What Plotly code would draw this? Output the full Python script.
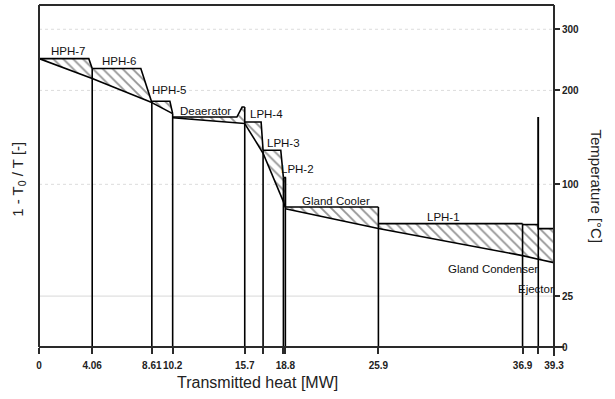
import plotly.graph_objects as go

T0 = 273.15

heaters = ["HPH-7", "HPH-6", "HPH-5", "Deaerator", "LPH-4", "LPH-3", "LPH-2",
           "Gland Cooler", "LPH-1", "Gland Condenser", "Ejector"]

# hot-side (heating steam / drain) profiles: heat [MW] and temperature [°C]
hot_q = [[0, 3.80, 4.06], [4.06, 7.77, 8.61], [8.61, 9.99, 10.2],
         [10.2, 15.1, 15.5, 15.7], [15.7, 16.95, 17.1], [17.1, 18.45, 18.65],
         [18.65, 18.8, 18.8], [18.8, 25.9], [25.9, 36.9], [36.9, 38.1],
         [38.1, 38.1, 39.3]]
hot_T = [[247.2, 247.2, 231.5], [231.5, 231.5, 184.1], [185.8, 185.8, 170.6],
         [166.6, 166.6, 178.6, 178.6], [160.9, 160.9, 131.0], [131.0, 131.0, 105.7],
         [105.7, 105.7, 82.0], [81.9, 81.9], [69.7, 69.7], [69.0, 69.0],
         [166.6, 66.2, 66.2]]

# cold side (feedwater / condensate) inlet-outlet temperatures [°C] per heater
cold_T_start = [247.2, 216.5, 184.1, 165.7, 159.1, 128.0, 86.0, 80.5, 66.2, 48.4, 46.1]
cold_T_end = [216.5, 184.1, 170.6, 159.1, 128.0, 86.0, 81.5, 66.2, 48.4, 46.1, 44.1]

x_ticks = [0, 4.06, 8.61, 10.2, 15.7, 18.8, 25.9, 36.9, 39.3]
x_ticktext = ["0", "4.06", "8.61", "10.2", "15.7", "18.8", "25.9", "36.9", "39.3"]
x_minor_ticks = [17.1, 18.65, 38.1]

temp_ticks = [0, 25, 100, 200, 300]

# label anchor points (heat MW, Carnot factor)
label_x = [2.27, 6.17, 9.95, 12.74, 17.38, 18.63, 19.70, 22.68, 30.83, 34.64, 37.96]
label_c = [0.4871, 0.4707, 0.4241, 0.3888, 0.3845, 0.3367, 0.2939, 0.2409, 0.2142, 0.1280, 0.0962]


def carnot(t):
    return 1 - T0 / (t + 273.15)


FONT = "Arial, Liberation Sans"
fig = go.Figure()

# gridlines
for t in temp_ticks[1:]:
    fig.add_shape(type="line", xref="paper", x0=0, x1=1, yref="y", y0=carnot(t), y1=carnot(t),
                  line=dict(color="#d8d8d8" if t == 25 else "#dcdcdc", width=1,
                            dash="solid" if t == 25 else "dot"),
                  layer="below")

# hatched areas
for i in range(len(heaters)):
    q0, q1 = hot_q[i][0], hot_q[i][-1]
    px = list(hot_q[i]) + [q1, q0, q0]
    py = [carnot(t) for t in hot_T[i]] + [carnot(cold_T_end[i]), carnot(cold_T_start[i]), carnot(hot_T[i][0])]
    fig.add_trace(go.Scatter(x=px, y=py, mode="lines", fill="toself", fillcolor="white",
                             fillpattern=dict(shape="\\", size=7, solidity=0.26, fgcolor="#2a2a2a",
                                              bgcolor="white"),
                             line=dict(width=0), hoverinfo="skip", showlegend=False))

# hot and cold lines
for i in range(len(heaters)):
    fig.add_trace(go.Scatter(x=hot_q[i], y=[carnot(t) for t in hot_T[i]], mode="lines",
                             line=dict(color="black", width=1.6), showlegend=False))
    fig.add_trace(go.Scatter(x=[hot_q[i][0], hot_q[i][-1]],
                             y=[carnot(cold_T_start[i]), carnot(cold_T_end[i])], mode="lines",
                             line=dict(color="black", width=1.6), showlegend=False))

# vertical boundary lines
bounds = sorted(set(q for qs in hot_q for q in qs[:1] + qs[-1:]))
for b in bounds:
    if b <= 0 or b >= 39.3:
        continue
    top = max(t for qs, ts in zip(hot_q, hot_T) for q, t in zip(qs, ts) if abs(q - b) < 1e-9)
    fig.add_trace(go.Scatter(x=[b, b], y=[0, carnot(top)], mode="lines",
                             line=dict(color="black", width=1.6), showlegend=False))

# heater labels
for name, lx, lc in zip(heaters, label_x, label_c):
    fig.add_annotation(x=lx, y=lc, text=name, showarrow=False, xanchor="center", yanchor="middle",
                       font=dict(family=FONT, size=11.5, color="#111"))

# frame
fc = "#2a2a2a"
fig.add_shape(type="line", xref="paper", yref="paper", x0=0, x1=0, y0=0, y1=1, line=dict(color=fc, width=2))
fig.add_shape(type="line", xref="paper", yref="paper", x0=0, x1=1, y0=1, y1=1, line=dict(color=fc, width=2))
fig.add_shape(type="line", xref="paper", yref="paper", x0=1, x1=1, y0=-0.026, y1=1, line=dict(color=fc, width=2))
fig.add_shape(type="line", xref="paper", yref="paper", x0=0, x1=1.02, y0=0, y1=0, line=dict(color=fc, width=2))

# axis titles
fig.add_annotation(xref="paper", yref="paper", x=-0.04, y=0.49, text="1 - T<sub>0</sub> / T [-]",
                   textangle=-90, showarrow=False, xanchor="center", yanchor="middle",
                   font=dict(family=FONT, size=15, color="#222"))
fig.add_annotation(xref="paper", yref="paper", x=1.083, y=0.47, text="Temperature [°C]",
                   textangle=90, showarrow=False, xanchor="center", yanchor="middle",
                   font=dict(family=FONT, size=15, color="#222"))
fig.add_annotation(xref="paper", yref="paper", x=0.425, y=-0.105, text="Transmitted heat [MW]",
                   showarrow=False, xanchor="center", yanchor="middle",
                   font=dict(family=FONT, size=16, color="#222"))

fig.update_layout(
    width=615, height=399,
    margin=dict(l=39, r=61, t=5, b=52),
    paper_bgcolor="white", plot_bgcolor="white",
    showlegend=False,
    xaxis=dict(range=[0, 39.3], tickvals=x_ticks, ticktext=x_ticktext, ticks="outside",
               ticklen=6, tickwidth=1.5, tickcolor=fc, tickangle=0, showgrid=False, zeroline=False,
               showline=False, ticklabelstandoff=3,
               minor=dict(tickvals=x_minor_ticks, ticks="outside", ticklen=6, tickwidth=1.5,
                          tickcolor=fc, showgrid=False),
               tickfont=dict(family=FONT, size=10, color="#222", weight="bold")),
    yaxis=dict(range=[0, 0.5634], side="right", tickvals=[carnot(t) for t in temp_ticks],
               ticktext=[str(t) for t in temp_ticks], ticks="outside", ticklen=5, tickwidth=1.5,
               tickcolor=fc, showgrid=False, zeroline=False, showline=False,
               tickfont=dict(family=FONT, size=10, color="#222", weight="bold")),
)

fig.write_html("out.html")
